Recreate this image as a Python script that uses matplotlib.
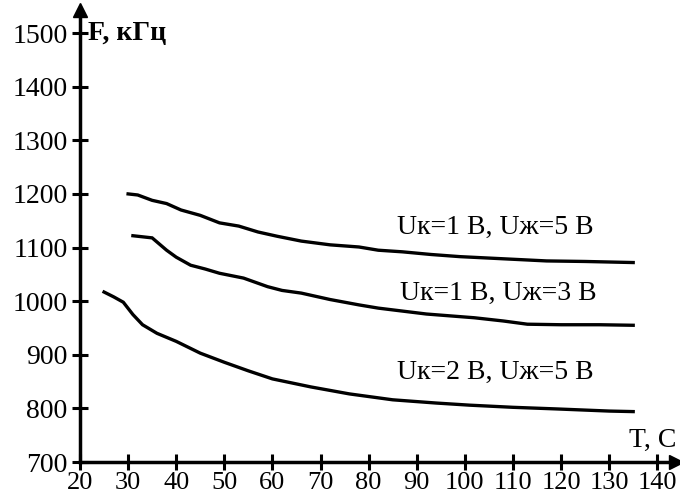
import matplotlib
matplotlib.use("Agg")
import matplotlib.pyplot as plt

plt.rcParams['font.family'] = ['Liberation Serif', 'DejaVu Serif']

# Data
t1 = [30, 32, 35, 38, 41, 45, 49, 53, 57, 61, 66, 72, 78, 82, 87, 93, 99, 108, 117, 125, 130, 135]
f1 = [1200, 1198, 1188, 1182, 1170, 1160, 1146, 1140, 1129, 1121, 1112, 1105, 1101, 1095, 1092, 1087, 1083, 1079, 1075, 1074, 1073, 1072]

t2 = [31, 33, 35, 38, 40, 43, 46, 49, 54, 59, 62, 66, 72, 78, 82, 92, 102, 108, 113, 120, 128, 135]
f2 = [1122, 1120, 1118, 1095, 1082, 1067, 1060, 1052, 1043, 1027, 1020, 1015, 1003, 993, 987, 976, 969, 963, 957, 956, 956, 955]

t3 = [25, 27, 29, 31, 33, 36, 40, 45, 50, 55, 60, 68, 76, 85, 94, 101, 110, 119, 130, 135]
f3 = [1017, 1008, 998, 975, 956, 940, 925, 903, 886, 870, 855, 840, 827, 816, 810, 806, 802, 799, 795, 794]

x_ticks = [20, 30, 40, 50, 60, 70, 80, 90, 100, 110, 120, 130, 140]
y_ticks = [700, 800, 900, 1000, 1100, 1200, 1300, 1400, 1500]

labels = ["Uк=1 В, Uж=5 В", "Uк=1 В, Uж=3 В", "Uк=2 В, Uж=5 В"]
label_pos = [(86, 1138), (86.5, 1015), (86, 867)]

W, H = 680, 499
fig = plt.figure(figsize=(W / 100, H / 100), dpi=100)
left, right, bottom, top = 80, 676, 462, 10
ax = fig.add_axes([left / W, 1 - bottom / H, (right - left) / W, (bottom - top) / H])

ax.set_xlim(20, 143.9)
ax.set_ylim(700, 1543)

for t, f in [(t1, f1), (t2, f2), (t3, f3)]:
    ax.plot(t, f, color='black', lw=2.4, solid_joinstyle='miter')

fs = 20
for (x, y), lab in zip(label_pos, labels):
    ax.text(x, y, lab, fontsize=fs, ha='left', va='center', color='black')

for s in ['top', 'right']:
    ax.spines[s].set_visible(False)
for s in ['left', 'bottom']:
    ax.spines[s].set_linewidth(2.5)

ax.plot(1, 0, '>', color='black', ms=10, transform=ax.transAxes, clip_on=False)
ax.plot(0, 1, '^', color='black', ms=10, transform=ax.transAxes, clip_on=False)

ax.set_xticks(x_ticks)
ax.set_yticks(y_ticks)
ax.tick_params(direction='inout', length=12, width=2.2, labelsize=fs)
ax.tick_params(axis='y', pad=3)
ax.tick_params(axis='x', pad=1, labelsize=19)

ax.text(21.6, 1500, "F, кГц", fontsize=fs, fontweight='bold', ha='left', va='center')
ax.text(1.0, 0.02, "T, С", transform=ax.transAxes, fontsize=fs, ha='right', va='bottom')

fig.savefig("out.png", dpi=100)
